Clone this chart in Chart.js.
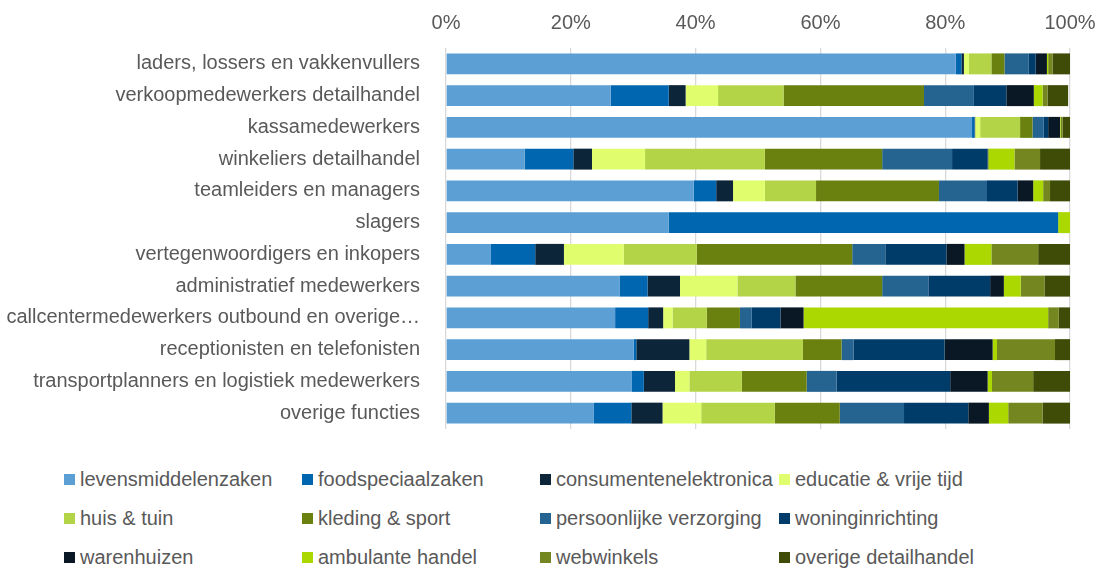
<!DOCTYPE html>
<html>
<head>
<meta charset="utf-8">
<script src="https://cdn.jsdelivr.net/npm/chart.js@4/dist/chart.umd.min.js"></script>
<style>
  html, body { margin: 0; background: #fff; overflow: hidden; font-family: "Liberation Sans", Arial, sans-serif; }
  #wrap { position: relative; width: 1100px; height: 568px; }
  #chart { position: absolute; left: 0; top: 0; }
  .leg { position: absolute; color: #595959; font-size: 20px; line-height: 24px; white-space: nowrap; }
  .leg i { display: inline-block; width: 11px; height: 11px; margin-right: 5px; vertical-align: 1px; }
</style>
</head>
<body>
<div id="wrap">
  <canvas id="chart" width="1100" height="430"></canvas>
  <div id="legend"></div>
</div>
<script>
const categories = [
  'laders, lossers en vakkenvullers',
  'verkoopmedewerkers detailhandel',
  'kassamedewerkers',
  'winkeliers detailhandel',
  'teamleiders en managers',
  'slagers',
  'vertegenwoordigers en inkopers',
  'administratief medewerkers',
  'callcentermedewerkers outbound en overige…',
  'receptionisten en telefonisten',
  'transportplanners en logistiek medewerkers',
  'overige functies'
];
const xTicks = [0, 20, 40, 60, 80, 100];

// percentage per branche, one value per category (same order as categories)
const levensmiddelenzaken   = [81.7, 26.4, 84.3, 12.6, 39.7, 35.7, 7.2, 27.8, 27.1, 30.1, 29.8, 23.7];
const foodspeciaalzaken     = [0.9, 9.3, 0.4, 7.8, 3.6, 62.4, 7.1, 4.5, 5.3, 0.4, 1.9, 6.0];
const consumentenelektronica= [0.4, 2.7, 0.1, 3.0, 2.7, 0, 4.6, 5.2, 2.4, 8.5, 5.0, 5.0];
const educatieVrijeTijd     = [0.8, 5.2, 0.8, 8.5, 5.1, 0, 9.6, 9.2, 1.5, 2.7, 2.3, 6.2];
const huisTuin              = [3.6, 10.5, 6.4, 19.2, 8.2, 0, 11.7, 9.3, 5.5, 15.5, 8.4, 11.8];
const kledingSport          = [2.1, 22.5, 2.0, 18.8, 19.7, 0, 24.9, 13.9, 5.3, 6.2, 10.4, 10.4];
const persoonlijkeVerzorging= [3.9, 8.0, 1.8, 11.2, 7.7, 0, 5.3, 7.4, 1.9, 1.9, 4.8, 10.3];
const woninginrichting      = [1.1, 5.2, 0.7, 5.7, 4.9, 0, 9.8, 9.9, 4.6, 14.6, 18.2, 10.3];
const warenhuizen           = [1.8, 4.4, 1.9, 0.1, 2.5, 0, 2.9, 2.2, 3.7, 7.7, 6.0, 3.3];
const ambulanteHandel       = [0.2, 1.4, 0.1, 4.2, 1.6, 1.9, 4.3, 2.7, 39.2, 0.7, 0.7, 3.1];
const webwinkels            = [0.7, 0.8, 0.3, 4.1, 1.1, 0, 7.5, 3.8, 1.7, 9.3, 6.6, 5.5];
const overigeDetailhandel   = [2.9, 3.3, 1.4, 5.0, 3.4, 0, 5.5, 4.4, 1.8, 2.5, 6.0, 4.9];

const seriesNames = ['levensmiddelenzaken', 'foodspeciaalzaken', 'consumentenelektronica', 'educatie & vrije tijd',
  'huis & tuin', 'kleding & sport', 'persoonlijke verzorging', 'woninginrichting',
  'warenhuizen', 'ambulante handel', 'webwinkels', 'overige detailhandel'];
const seriesData = [levensmiddelenzaken, foodspeciaalzaken, consumentenelektronica, educatieVrijeTijd,
  huisTuin, kledingSport, persoonlijkeVerzorging, woninginrichting,
  warenhuizen, ambulanteHandel, webwinkels, overigeDetailhandel];
const colors = ['#5B9FD4', '#0066B0', '#0C2539', '#E0FD6E',
  '#B4D448', '#6A800F', '#256490', '#003C6A',
  '#091824', '#AAD800', '#73861F', '#3E4C07'];

const textColor = '#595959';
const font = { family: '"Liberation Sans", Arial, sans-serif', size: 20 };

new Chart(document.getElementById('chart').getContext('2d'), {
  type: 'bar',
  data: {
    labels: categories,
    datasets: seriesData.map((d, i) => ({
      label: seriesNames[i],
      data: d,
      backgroundColor: colors[i],
      borderWidth: 0,
      barPercentage: 0.66,
      categoryPercentage: 1
    }))
  },
  options: {
    indexAxis: 'y',
    responsive: false,
    animation: false,
    layout: { padding: { left: 0, right: 30, top: 0, bottom: 1 } },
    plugins: { legend: { display: false }, tooltip: { enabled: false } },
    scales: {
      x: {
        position: 'top',
        stacked: true,
        min: 0,
        max: 100,
        afterBuildTicks: s => { s.ticks = xTicks.map(v => ({ value: v })); },
        afterFit: s => { s.height = 48; s.paddingLeft = 0; s.paddingRight = 0; },
        ticks: { color: textColor, font: font, padding: 13, callback: v => v + '%' },
        grid: { color: '#D9D9D9', lineWidth: 1.3, drawTicks: false },
        border: { display: false }
      },
      y: {
        stacked: true,
        afterFit: s => { s.width = 446; s.paddingTop = 0; s.paddingBottom = 0; },
        ticks: { color: textColor, font: font, padding: 18, autoSkip: false },
        grid: { display: false },
        border: { display: false }
      }
    }
  }
});

// legend in four fixed columns, like the original
const legend = document.getElementById('legend');
const colX = [64, 302, 540, 779];
const rowY = [467, 506, 545];
seriesNames.forEach((name, i) => {
  const el = document.createElement('div');
  el.className = 'leg';
  el.style.left = colX[i % 4] + 'px';
  el.style.top = rowY[Math.floor(i / 4)] + 'px';
  el.innerHTML = `<i style="background:${colors[i]}"></i>${name}`;
  legend.appendChild(el);
});
</script>
</body>
</html>
